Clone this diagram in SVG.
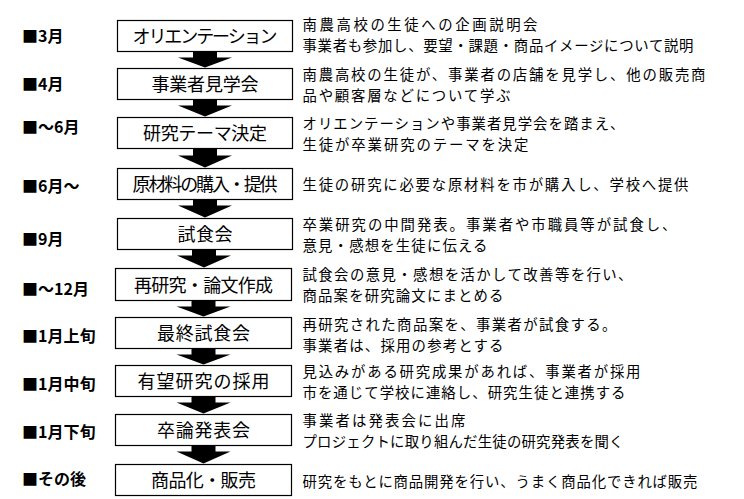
<svg xmlns="http://www.w3.org/2000/svg" width="744" height="499" viewBox="0 0 744 499">
<style>
text{font-family:"Noto Sans CJK JP","Liberation Sans",sans-serif;fill:#000}
.lbl{font-size:16px;font-weight:bold}
.box{fill:#fff;stroke:#000;stroke-width:1.2}
.bt{font-size:18px;text-anchor:middle}
.dt{font-size:14.4px}
.arr{fill:#000}
</style>
<rect width="744" height="499" fill="#fff"/>
<g id="connectors">
<polygon class="arr" points="193,51.5 217,51.5 217,57.5 232,57.5 205,67.5 178,57.5 193,57.5"/>
<polygon class="arr" points="193,99.5 217,99.5 217,105.5 232,105.5 205,116.5 178,105.5 193,105.5"/>
<polygon class="arr" points="193,148.5 217,148.5 217,155.5 232,155.5 205,167.5 178,155.5 193,155.5"/>
<polygon class="arr" points="193,199.5 217,199.5 217,205.5 232,205.5 205,217.5 178,205.5 193,205.5"/>
<polygon class="arr" points="192,249.5 216,249.5 216,255.5 231,255.5 204,267.5 177,255.5 192,255.5"/>
<polygon class="arr" points="191.5,300.5 215.5,300.5 215.5,306.5 230.5,306.5 203.5,316.5 176.5,306.5 191.5,306.5"/>
<polygon class="arr" points="191.5,348.5 215.5,348.5 215.5,354.5 230.5,354.5 203.5,364.5 176.5,354.5 191.5,354.5"/>
<polygon class="arr" points="191.5,396.5 215.5,396.5 215.5,402.5 230.5,402.5 203.5,413.5 176.5,402.5 191.5,402.5"/>
<polygon class="arr" points="191.5,445.5 215.5,445.5 215.5,451.5 230.5,451.5 203.5,463.5 176.5,451.5 191.5,451.5"/>
</g>
<g id="n1"><text class="lbl" x="22" y="42">■3月</text><rect class="box" x="117.5" y="20.5" width="175" height="31"/><text class="bt" x="205" y="43" textLength="145">オリエンテーション</text><text class="dt" x="302.5" y="30" textLength="235">南農高校の生徒への企画説明会</text><text class="dt" x="302.5" y="51" textLength="391">事業者も参加し、要望・課題・商品イメージについて説明</text></g>
<g id="n2"><text class="lbl" x="22" y="90">■4月</text><rect class="box" x="117.5" y="68.5" width="175" height="31"/><text class="bt" x="205" y="91" textLength="107">事業者見学会</text><text class="dt" x="302.5" y="80" textLength="403">南農高校の生徒が、事業者の店舗を見学し、他の販売商</text><text class="dt" x="302.5" y="101" textLength="208">品や顧客層などについて学ぶ</text></g>
<g id="n3"><text class="lbl" x="22" y="133">■～6月</text><rect class="box" x="117.5" y="117.5" width="175" height="31"/><text class="bt" x="205" y="140" textLength="124">研究テーマ決定</text><text class="dt" x="302.5" y="129" textLength="322">オリエンテーションや事業者見学会を踏まえ、</text><text class="dt" x="302.5" y="150" textLength="226">生徒が卒業研究のテーマを決定</text></g>
<g id="n4"><text class="lbl" x="22" y="192">■6月～</text><rect class="box" x="117.5" y="168.5" width="175" height="31"/><text class="bt" x="205" y="191" textLength="145">原材料の購入・提供</text><text class="dt" x="302.5" y="190" textLength="386">生徒の研究に必要な原材料を市が購入し、学校へ提供</text></g>
<g id="n5"><text class="lbl" x="22" y="245">■9月</text><rect class="box" x="117.5" y="218.5" width="175" height="31"/><text class="bt" x="205" y="241" textLength="55">試食会</text><text class="dt" x="302.5" y="230" textLength="374">卒業研究の中間発表。事業者や市職員等が試食し、</text><text class="dt" x="302.5" y="251" textLength="185">意見・感想を生徒に伝える</text></g>
<g id="n6"><text class="lbl" x="22" y="295">■～12月</text><rect class="box" x="115.5" y="268.5" width="176" height="32"/><text class="bt" x="203.5" y="291.5" textLength="139">再研究・論文作成</text><text class="dt" x="302.5" y="280" textLength="330">試食会の意見・感想を活かして改善等を行い、</text><text class="dt" x="302.5" y="301" textLength="201">商品案を研究論文にまとめる</text></g>
<g id="n7"><text class="lbl" x="22" y="342">■1月上旬</text><rect class="box" x="115.5" y="317.5" width="176" height="31"/><text class="bt" x="203.5" y="340" textLength="93">最終試食会</text><text class="dt" x="302.5" y="330" textLength="314">再研究された商品案を、事業者が試食する。</text><text class="dt" x="302.5" y="351" textLength="201">事業者は、採用の参考とする</text></g>
<g id="n8"><text class="lbl" x="22" y="390">■1月中旬</text><rect class="box" x="115.5" y="365.5" width="176" height="31"/><text class="bt" x="203.5" y="388" textLength="132">有望研究の採用</text><text class="dt" x="302.5" y="377" textLength="338">見込みがある研究成果があれば、事業者が採用</text><text class="dt" x="302.5" y="398" textLength="323">市を通じて学校に連絡し、研究生徒と連携する</text></g>
<g id="n9"><text class="lbl" x="22" y="438">■1月下旬</text><rect class="box" x="115.5" y="414.5" width="176" height="31"/><text class="bt" x="203.5" y="437" textLength="93">卒論発表会</text><text class="dt" x="302.5" y="426" textLength="163">事業者は発表会に出席</text><text class="dt" x="302.5" y="447" textLength="321">プロジェクトに取り組んだ生徒の研究発表を聞く</text></g>
<g id="n10"><text class="lbl" x="22" y="485">■その後</text><rect class="box" x="115.5" y="464.5" width="176" height="31"/><text class="bt" x="203.5" y="487" textLength="105">商品化・販売</text><text class="dt" x="302.5" y="487" textLength="395">研究をもとに商品開発を行い、うまく商品化できれば販売</text></g>
</svg>
